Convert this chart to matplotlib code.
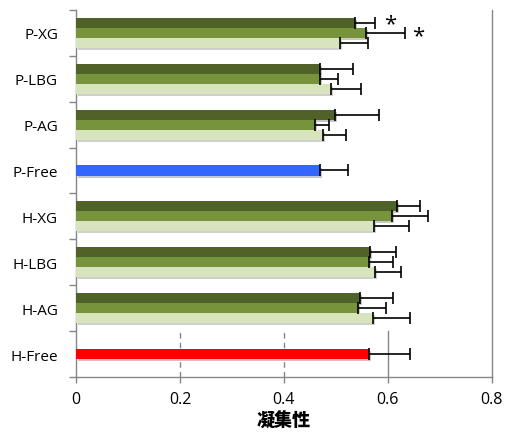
import numpy as np
import matplotlib.pyplot as plt
import matplotlib.patheffects as pe

plt.rcParams['font.family'] = ['Open Sans', 'DejaVu Sans']

# データ (上から順)
categories = ['P-XG', 'P-LBG', 'P-AG', 'P-Free', 'H-XG', 'H-LBG', 'H-AG', 'H-Free']

# 3系列のグループ (Freeは単独バー)
group_cats = ['P-XG', 'P-LBG', 'P-AG', 'H-XG', 'H-LBG', 'H-AG']
dark_vals = [0.537, 0.470, 0.499, 0.617, 0.565, 0.546]
dark_err = [0.039, 0.063, 0.083, 0.045, 0.051, 0.063]
mid_vals = [0.557, 0.470, 0.460, 0.608, 0.563, 0.542]
mid_err = [0.076, 0.035, 0.027, 0.069, 0.046, 0.055]
light_vals = [0.508, 0.491, 0.476, 0.574, 0.576, 0.571]
light_err = [0.054, 0.058, 0.043, 0.067, 0.049, 0.071]

free_cats = ['P-Free', 'H-Free']
free_vals = [0.470, 0.563]
free_err = [0.053, 0.079]
free_colors = ['#3366FF', '#FF0000']

series_colors = ['#4F6228', '#77933C', '#D7E4BD']

fig = plt.figure(figsize=(5.07, 4.35), dpi=100)
ax = fig.add_axes([0.150, 0.131, 0.820, 0.844])

h = 0.218
shadow = [pe.SimplePatchShadow(offset=(1.5, -1.5), alpha=0.25), pe.Normal()]
ebar = dict(ecolor='black', elinewidth=1.2, capsize=4, capthick=1.2)

pos = {c: i for i, c in enumerate(categories)}
gy = np.array([pos[c] for c in group_cats])

series = [(dark_vals, dark_err, -h), (mid_vals, mid_err, 0), (light_vals, light_err, h)]
for (vals, errs, off), col in zip(series, series_colors):
    bars = ax.barh(gy + off, vals, height=h, color=col, zorder=3)
    for b in bars:
        b.set_path_effects(shadow)
    ax.errorbar(vals, gy + off, xerr=[np.zeros(len(errs)), errs], fmt='none', zorder=4, **ebar)

fy = np.array([pos[c] for c in free_cats])
bars = ax.barh(fy, free_vals, height=h, color=free_colors, zorder=3)
for b in bars:
    b.set_path_effects(shadow)
ax.errorbar(free_vals, fy, xerr=[np.zeros(len(free_err)), free_err], fmt='none', zorder=4, **ebar)

# 有意差マーク
ax.text(dark_vals[0] + dark_err[0] + 0.028, pos['P-XG'] - h + 0.02, '*', fontsize=16,
        ha='center', va='center', zorder=5)
ax.text(mid_vals[0] + mid_err[0] + 0.026, pos['P-XG'] + 0.07, '*', fontsize=16,
        ha='center', va='center', zorder=5)

ax.set_xlim(0, 0.8)
ax.set_ylim(len(categories) - 0.5, -0.5)
ax.set_xticks([0, 0.2, 0.4, 0.6, 0.8])
ax.set_xticklabels(['0', '0.2', '0.4', '0.6', '0.8'])
ax.set_yticks(range(len(categories)))
ax.set_yticklabels(categories)
ax.set_yticks(np.arange(-0.5, len(categories), 1), minor=True)
ax.tick_params(axis='y', which='major', length=0, labelsize=11, pad=13)
ax.tick_params(axis='y', which='minor', length=5, color='#868686', width=1)
ax.tick_params(axis='x', length=4, color='#868686', width=1, labelsize=11.5, pad=6)

# 最下段だけ見えている目盛線
ax.axvline(0.2, ymax=1 / 8, color='#868686', lw=1, ls=(0, (4, 3)), zorder=1)
ax.axvline(0.4, ymax=1 / 8, color='#868686', lw=1, ls=(0, (4, 3)), zorder=1)
ax.axvline(0.6, ymax=1 / 8, color='#868686', lw=1, zorder=1)

for s in ['left', 'bottom', 'right']:
    ax.spines[s].set_color('#868686')
    ax.spines[s].set_linewidth(1)
ax.spines['top'].set_visible(False)

ax.set_xlabel('凝集性', family=['Noto Sans CJK JP', 'DejaVu Sans'], fontweight='black',
              fontsize=13, labelpad=3)

fig.savefig('out.png', dpi=100)
